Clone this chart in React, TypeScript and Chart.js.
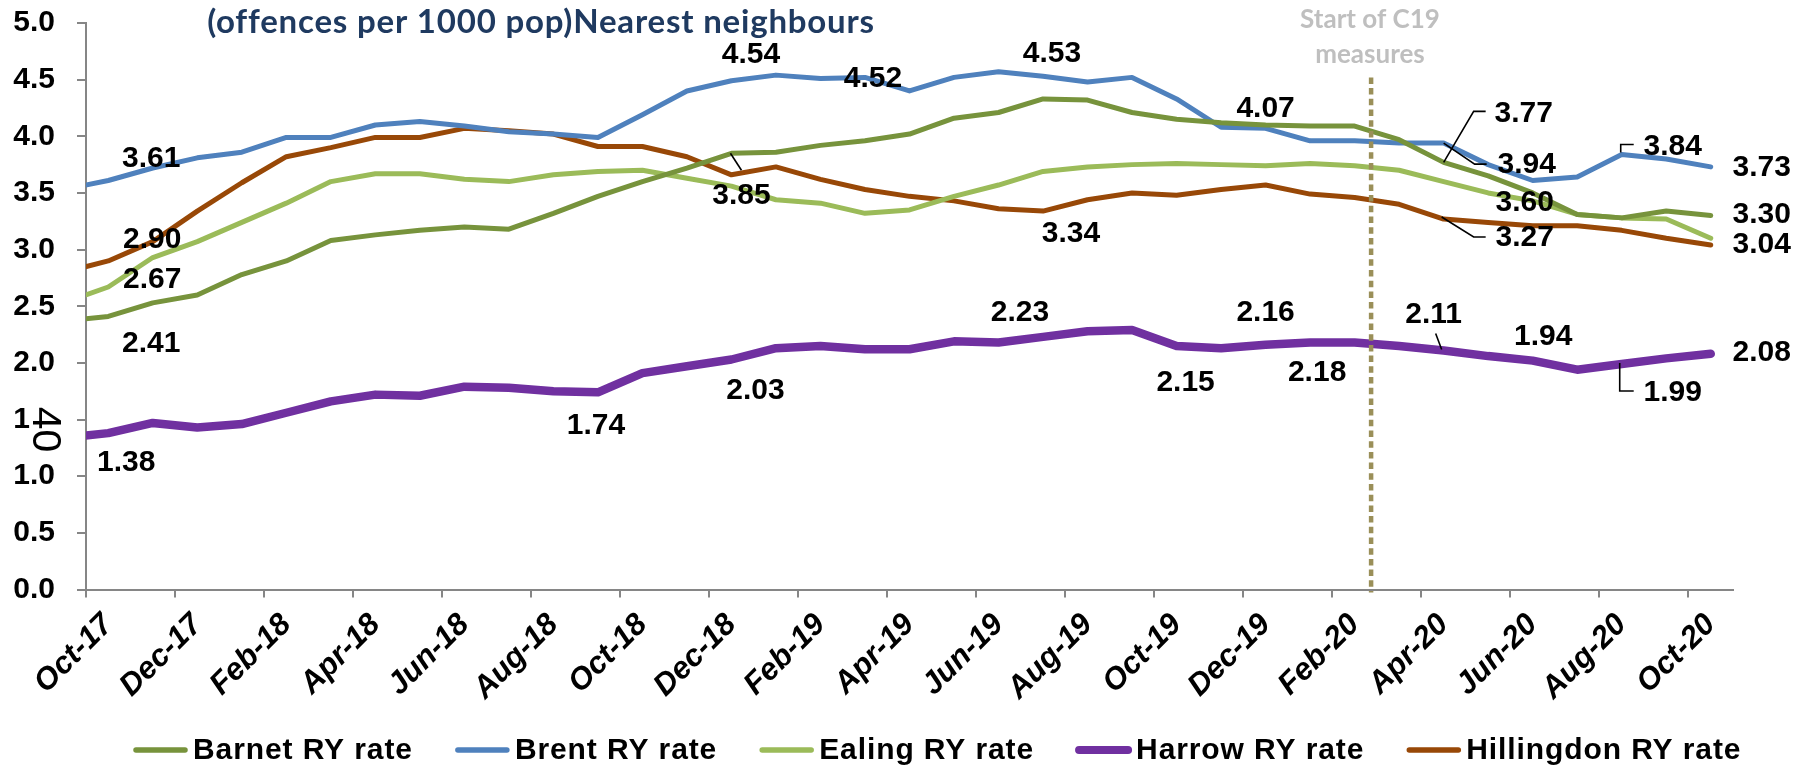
import React, { useEffect, useRef } from 'react';
import { Chart, registerables } from 'chart.js';

Chart.register(...registerables);

// ---------- data ----------
const months = [
  'Sep-17', 'Oct-17', 'Nov-17', 'Dec-17', 'Jan-18', 'Feb-18', 'Mar-18', 'Apr-18', 'May-18', 'Jun-18',
  'Jul-18', 'Aug-18', 'Sep-18', 'Oct-18', 'Nov-18', 'Dec-18', 'Jan-19', 'Feb-19', 'Mar-19', 'Apr-19',
  'May-19', 'Jun-19', 'Jul-19', 'Aug-19', 'Sep-19', 'Oct-19', 'Nov-19', 'Dec-19', 'Jan-20', 'Feb-20',
  'Mar-20', 'Apr-20', 'May-20', 'Jun-20', 'Jul-20', 'Aug-20', 'Sep-20', 'Oct-20',
];
const firstShownMonth = 'Oct-17';

const barnet = [
  2.37, 2.41, 2.53, 2.60, 2.78, 2.90, 3.08, 3.13, 3.17, 3.20,
  3.18, 3.32, 3.47, 3.60, 3.72, 3.85, 3.86, 3.92, 3.96, 4.02,
  4.16, 4.21, 4.33, 4.32, 4.21, 4.15, 4.12, 4.10, 4.09, 4.09,
  3.97, 3.77, 3.65, 3.50, 3.31, 3.28, 3.34, 3.30,
];
const brent = [
  3.53, 3.61, 3.72, 3.81, 3.86, 3.99, 3.99, 4.10, 4.13, 4.09,
  4.04, 4.02, 3.99, 4.19, 4.40, 4.49, 4.54, 4.51, 4.52, 4.40,
  4.52, 4.57, 4.53, 4.48, 4.52, 4.33, 4.08, 4.07, 3.96, 3.96,
  3.94, 3.94, 3.75, 3.61, 3.64, 3.84, 3.80, 3.73,
];
const ealing = [
  2.53, 2.67, 2.93, 3.07, 3.24, 3.41, 3.60, 3.67, 3.67, 3.62,
  3.60, 3.66, 3.69, 3.70, 3.63, 3.56, 3.44, 3.41, 3.32, 3.35,
  3.47, 3.57, 3.69, 3.73, 3.75, 3.76, 3.75, 3.74, 3.76, 3.74,
  3.70, 3.60, 3.50, 3.43, 3.31, 3.28, 3.27, 3.10,
];
const harrow = [
  1.34, 1.38, 1.47, 1.43, 1.46, 1.56, 1.66, 1.72, 1.71, 1.79,
  1.78, 1.75, 1.74, 1.91, 1.97, 2.03, 2.13, 2.15, 2.12, 2.12,
  2.19, 2.18, 2.23, 2.28, 2.29, 2.15, 2.13, 2.16, 2.18, 2.18,
  2.15, 2.11, 2.06, 2.02, 1.94, 1.99, 2.04, 2.08,
];
const hillingdon = [
  2.80, 2.90, 3.07, 3.34, 3.59, 3.82, 3.90, 3.99, 3.99, 4.07,
  4.05, 4.02, 3.91, 3.91, 3.82, 3.66, 3.73, 3.62, 3.53, 3.47,
  3.43, 3.36, 3.34, 3.44, 3.50, 3.48, 3.53, 3.57, 3.49, 3.46,
  3.40, 3.27, 3.24, 3.21, 3.21, 3.17, 3.10, 3.04,
];

const seriesNames = ['Barnet RY rate', 'Brent RY rate', 'Ealing RY rate', 'Harrow RY rate', 'Hillingdon RY rate'];
const seriesValues = [barnet, brent, ealing, harrow, hillingdon];
const seriesColors = ['#77933C', '#4F81BD', '#9BBB59', '#7030A0', '#984807'];
const seriesWidths = [5, 5, 5, 8.5, 5];

const titleText = '(offences per 1000 pop)Nearest neighbours';
const noteLines = ['Start of C19', 'measures'];
const pageNumber = '40';

// vertical "Start of C19 measures" marker: between Feb-20 and Mar-20
const c19Marker = { afterMonth: 'Feb-20', fraction: 0.37, topValue: 4.52 };

// data labels: which point, and where the text sits relative to it
const labelSpecs = [
  { series: 'Brent RY rate', month: 'Oct-17', dx: 43, dy: -23 },
  { series: 'Brent RY rate', month: 'Jan-19', dx: -25, dy: -21 },
  { series: 'Brent RY rate', month: 'Mar-19', dx: 8, dy: 0 },
  { series: 'Brent RY rate', month: 'Jul-19', dx: 9, dy: -24 },
  { series: 'Brent RY rate', month: 'Dec-19', dx: 0, dy: -21 },
  { series: 'Brent RY rate', month: 'Apr-20', dx: 83, dy: 21, leader: [[0, 0], [31, 21], [43, 21]] },
  { series: 'Brent RY rate', month: 'Aug-20', dx: 51, dy: -9, leader: [[-1, -2], [-1, -10], [12, -10]] },
  { series: 'Brent RY rate', month: 'Oct-20', dx: 51, dy: 0 },

  { series: 'Barnet RY rate', month: 'Oct-17', dx: 43, dy: 26 },
  { series: 'Barnet RY rate', month: 'Dec-18', dx: 10, dy: 41, leader: [[-1, 0], [10, 17]] },
  { series: 'Barnet RY rate', month: 'Apr-20', dx: 80, dy: -50, leader: [[0, 0], [30, -51], [42, -51]] },
  { series: 'Barnet RY rate', month: 'Oct-20', dx: 51, dy: -2 },

  { series: 'Ealing RY rate', month: 'Oct-17', dx: 44, dy: -8 },
  { series: 'Ealing RY rate', month: 'Apr-20', dx: 81, dy: 20 },

  { series: 'Hillingdon RY rate', month: 'Oct-17', dx: 44, dy: -22 },
  { series: 'Hillingdon RY rate', month: 'Jul-19', dx: 28, dy: 22 },
  { series: 'Hillingdon RY rate', month: 'Apr-20', dx: 81, dy: 18, leader: [[-2, -2], [30, 18], [42, 18]] },
  { series: 'Hillingdon RY rate', month: 'Oct-20', dx: 51, dy: -1 },

  { series: 'Harrow RY rate', month: 'Oct-17', dx: 18, dy: 29 },
  { series: 'Harrow RY rate', month: 'Sep-18', dx: -2, dy: 32 },
  { series: 'Harrow RY rate', month: 'Dec-18', dx: 24, dy: 30 },
  { series: 'Harrow RY rate', month: 'Jul-19', dx: -23, dy: -25 },
  { series: 'Harrow RY rate', month: 'Oct-19', dx: 9, dy: 36 },
  { series: 'Harrow RY rate', month: 'Dec-19', dx: 0, dy: -33 },
  { series: 'Harrow RY rate', month: 'Jan-20', dx: 7, dy: 29 },
  { series: 'Harrow RY rate', month: 'Apr-20', dx: -10, dy: -37, leader: [[-8, -17], [-2, -1]] },
  { series: 'Harrow RY rate', month: 'Jul-20', dx: -34, dy: -34 },
  { series: 'Harrow RY rate', month: 'Aug-20', dx: 51, dy: 28, leader: [[-2, -1], [-2, 27], [12, 27]] },
  { series: 'Harrow RY rate', month: 'Oct-20', dx: 51, dy: -2 },
];

// ---------- styling ----------
const ARIAL = '"Liberation Sans", Arial, sans-serif';
const CALIBRI = 'Lato, "Open Sans", sans-serif';
const AXIS_GREY = '#868686';

const overlayPlugin = {
  id: 'overlay',
  afterDatasetsDraw(chart: any) {
    const ctx = chart.ctx as CanvasRenderingContext2D;
    const xs = chart.scales.x;
    const ys = chart.scales.y;

    // C19 dotted marker
    const mx = xs.getPixelForValue(months.indexOf(c19Marker.afterMonth) + c19Marker.fraction);
    ctx.save();
    ctx.strokeStyle = '#9A8F58';
    ctx.lineWidth = 4.5;
    ctx.setLineDash([6.5, 4.2]);
    ctx.beginPath();
    ctx.moveTo(mx, ys.getPixelForValue(c19Marker.topValue));
    ctx.lineTo(mx, ys.getPixelForValue(0) + 3);
    ctx.stroke();
    ctx.restore();

    // data labels
    ctx.save();
    ctx.font = `bold 30px ${ARIAL}`;
    ctx.fillStyle = '#000';
    ctx.textAlign = 'center';
    ctx.textBaseline = 'middle';
    ctx.strokeStyle = '#000';
    ctx.lineWidth = 1.6;
    labelSpecs.forEach((s: any) => {
      const si = seriesNames.indexOf(s.series);
      const idx = months.indexOf(s.month);
      const v = seriesValues[si][idx];
      const px = xs.getPixelForValue(idx);
      const py = ys.getPixelForValue(v);
      if (s.leader) {
        ctx.beginPath();
        s.leader.forEach((p: number[], k: number) => {
          if (k === 0) ctx.moveTo(px + p[0], py + p[1]);
          else ctx.lineTo(px + p[0], py + p[1]);
        });
        ctx.stroke();
      }
      ctx.fillText(v.toFixed(2), px + s.dx, py + s.dy + 1);
    });
    ctx.restore();
  },
  afterDraw(chart: any) {
    const ctx = chart.ctx as CanvasRenderingContext2D;
    ctx.save();
    // title
    (ctx as any).letterSpacing = '0.8px';
    ctx.font = `bold 33px ${CALIBRI}`;
    ctx.fillStyle = '#1F3A60';
    ctx.textAlign = 'center';
    ctx.textBaseline = 'alphabetic';
    ctx.fillText(titleText, 541, 33);

    // note
    (ctx as any).letterSpacing = '0px';
    ctx.font = `bold 26px ${CALIBRI}`;
    ctx.fillStyle = '#BFBFBF';
    ctx.fillText(noteLines[0], 1370, 28);
    ctx.fillText(noteLines[1], 1370, 63);

    // legend
    (ctx as any).letterSpacing = '0.9px';
    ctx.font = `bold 30px ${ARIAL}`;
    ctx.textAlign = 'left';
    ctx.textBaseline = 'middle';
    ctx.lineCap = 'round';
    let x = 133;
    const ly = 750;
    seriesNames.forEach((name, i) => {
      ctx.strokeStyle = seriesColors[i];
      ctx.lineWidth = i === 3 ? 8 : 5.5;
      ctx.beginPath();
      ctx.moveTo(x + 3, ly);
      ctx.lineTo(x + 52, ly);
      ctx.stroke();
      ctx.fillStyle = '#000';
      ctx.fillText(name, x + 60, ly + 1);
      x += 60 + ctx.measureText(name).width + 42;
    });
    (ctx as any).letterSpacing = '0px';

    // page number artefact over the 1.5 tick label
    ctx.fillStyle = '#fff';
    ctx.fillRect(31, 404, 33, 52);
    ctx.translate(33, 429.5);
    ctx.rotate(Math.PI / 2);
    ctx.font = `41px ${ARIAL}`;
    ctx.fillStyle = '#000';
    ctx.textAlign = 'center';
    ctx.textBaseline = 'alphabetic';
    ctx.fillText(pageNumber, 0, 0);
    ctx.restore();
  },
};

export default function App() {
  const ref = useRef<HTMLCanvasElement>(null);

  useEffect(() => {
    document.body.style.margin = '0';
    const canvas = ref.current;
    if (!canvas) return;
    const chart = new Chart(canvas, {
      type: 'line',
      data: {
        labels: months,
        datasets: seriesNames.map((name, i) => ({
          label: name,
          data: seriesValues[i],
          borderColor: seriesColors[i],
          backgroundColor: seriesColors[i],
          borderWidth: seriesWidths[i],
          pointRadius: 0,
          tension: 0,
          borderCapStyle: 'round',
          borderJoinStyle: 'round',
          clip: 0,
          fill: false,
        })),
      },
      options: {
        responsive: false,
        animation: false,
        devicePixelRatio: 1,
        layout: { padding: { top: 23, right: 77, left: 0, bottom: 0 } },
        plugins: {
          legend: { display: false },
          tooltip: { enabled: false },
        },
        scales: {
          x: {
            type: 'category',
            min: firstShownMonth,
            offset: true,
            grid: {
              offset: true,
              drawOnChartArea: false,
              drawTicks: true,
              tickLength: 8,
              lineWidth: 2,
              color: (c: any) => (c.index % 2 === 0 ? AXIS_GREY : 'rgba(0,0,0,0)'),
            },
            border: { color: AXIS_GREY, width: 2 },
            ticks: {
              autoSkip: false,
              minRotation: 45,
              maxRotation: 45,
              padding: 9,
              color: '#000',
              font: { family: ARIAL, size: 31, weight: 'bold', style: 'italic' },
              callback: function (this: any, value: any, index: number) {
                return index % 2 === 0 ? this.getLabelForValue(value) : '';
              },
            },
            afterFit: (s: any) => {
              s.height = 176.5;
              s.paddingLeft = 0;
              s.paddingRight = 0;
            },
          },
          y: {
            min: 0,
            max: 5,
            grid: {
              drawOnChartArea: false,
              drawTicks: true,
              tickLength: 9,
              lineWidth: 2,
              color: AXIS_GREY,
            },
            border: { color: AXIS_GREY, width: 2 },
            ticks: {
              stepSize: 0.5,
              padding: 22,
              color: '#000',
              font: { family: ARIAL, size: 30, weight: 'bold' },
              callback: (v: any) => Number(v).toFixed(1),
            },
            afterFit: (s: any) => {
              s.width = 86;
              s.paddingTop = 0;
              s.paddingBottom = 0;
            },
          },
        },
      } as any,
      plugins: [overlayPlugin],
    } as any);
    return () => chart.destroy();
  }, []);

  return (
    <div style={{ width: 1810, height: 766 }}>
      <canvas ref={ref} width={1810} height={766} style={{ display: 'block', width: 1810, height: 766 }} />
    </div>
  );
}
